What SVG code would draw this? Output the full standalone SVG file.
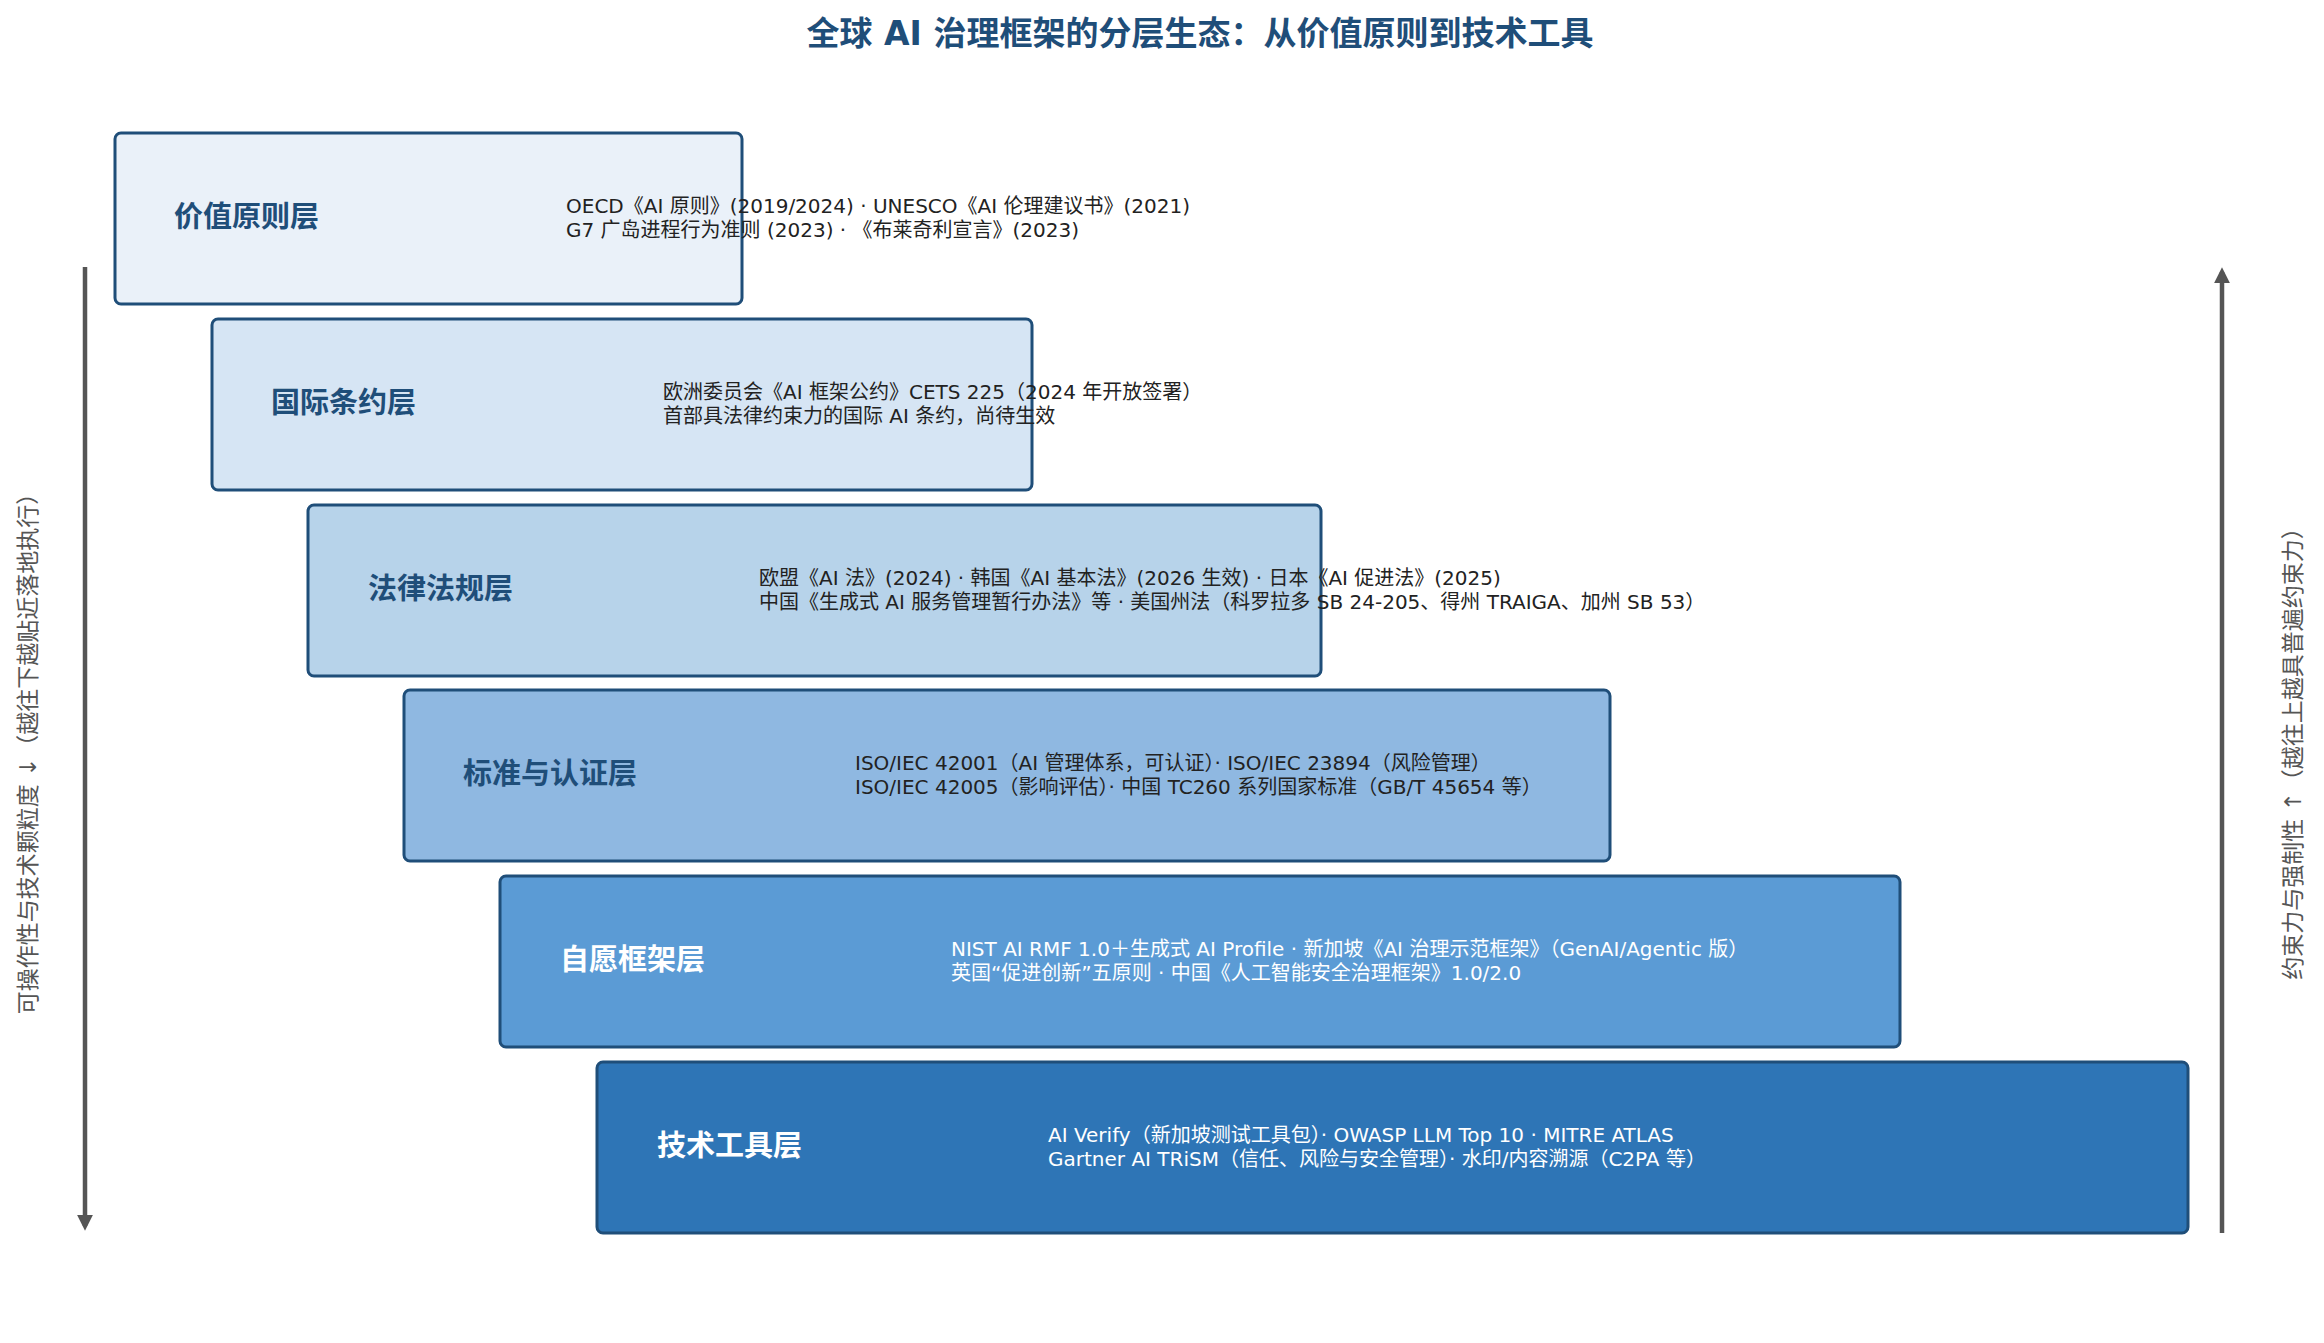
<svg xmlns="http://www.w3.org/2000/svg" width="2324" height="1343" viewBox="0 0 2324 1343">
<style>
.box{stroke:#1f4e79;stroke-width:3}
.lbl{font-family:"DejaVu Sans","Noto Sans CJK SC",sans-serif;font-weight:bold;font-size:29px;fill:#1f4e79;dominant-baseline:central}
.desc{font-family:"DejaVu Sans","Noto Sans CJK SC",sans-serif;font-size:20px;fill:#222}
.side{font-family:"DejaVu Sans","Noto Sans CJK SC",sans-serif;font-size:23px;fill:#555;text-anchor:middle;dominant-baseline:central}
.arr{stroke:#555;stroke-width:4.5;fill:none}
</style>
<defs>
<marker id="ah" markerWidth="8" markerHeight="8" refX="5" refY="4" orient="auto" markerUnits="userSpaceOnUse" viewBox="0 0 8 8"><path d="M0,0 L8,4 L0,8 Z" fill="#555"/></marker>
<marker id="ah2" viewBox="0 0 10 10" refX="7" refY="5" markerWidth="16" markerHeight="16" orient="auto" markerUnits="userSpaceOnUse"><path d="M0,0 L10,5 L0,10 Z" fill="#555"/></marker>
</defs>
<rect width="2324" height="1343" fill="#fff"/>
<text x="1200" y="33" font-family="DejaVu Sans,'Noto Sans CJK SC',sans-serif" font-weight="bold" font-size="33" fill="#1f4e79" text-anchor="middle" dominant-baseline="central">全球 AI 治理框架的分层生态：从价值原则到技术工具</text>
<g id="connectors">
<line class="arr" x1="85" y1="267" x2="85" y2="1226" marker-end="url(#ah2)"/>
<line class="arr" x1="2222" y1="1233" x2="2222" y2="272" marker-end="url(#ah2)"/>
</g>
<text class="side" transform="translate(28,748) rotate(-90)">可操作性与技术颗粒度 ↓（越往下越贴近落地执行）</text>
<text class="side" transform="translate(2293,748) rotate(-90)">约束力与强制性 ↑（越往上越具普遍约束力）</text>
<g id="layer1">
<rect class="box" x="115" y="133" width="627" height="171" rx="6" fill="#eaf1f9"/>
<text class="lbl" x="174" y="217">价值原则层</text>
<text class="desc" x="566" y="213">OECD《AI 原则》(2019/2024) · UNESCO《AI 伦理建议书》(2021)</text>
<text class="desc" x="566" y="237">G7 广岛进程行为准则 (2023) · 《布莱奇利宣言》(2023)</text>
</g>
<g id="layer2">
<rect class="box" x="212" y="319" width="820" height="171" rx="6" fill="#d6e5f4"/>
<text class="lbl" x="271" y="403">国际条约层</text>
<text class="desc" x="663" y="399">欧洲委员会《AI 框架公约》CETS 225（2024 年开放签署）</text>
<text class="desc" x="663" y="423">首部具法律约束力的国际 AI 条约，尚待生效</text>
</g>
<g id="layer3">
<rect class="box" x="308" y="505" width="1013" height="171" rx="6" fill="#b7d3ea"/>
<text class="lbl" x="368" y="589">法律法规层</text>
<text class="desc" x="759" y="585">欧盟《AI 法》(2024) · 韩国《AI 基本法》(2026 生效) · 日本《AI 促进法》(2025)</text>
<text class="desc" x="759" y="609">中国《生成式 AI 服务管理暂行办法》等 · 美国州法（科罗拉多 SB 24-205、得州 TRAIGA、加州 SB 53）</text>
</g>
<g id="layer4">
<rect class="box" x="404" y="690" width="1206" height="171" rx="6" fill="#8fb8e1"/>
<text class="lbl" x="463" y="774">标准与认证层</text>
<text class="desc" x="855" y="770">ISO/IEC 42001（AI 管理体系，可认证）· ISO/IEC 23894（风险管理）</text>
<text class="desc" x="855" y="794">ISO/IEC 42005（影响评估）· 中国 TC260 系列国家标准（GB/T 45654 等）</text>
</g>
<g id="layer5">
<rect class="box" x="500" y="876" width="1400" height="171" rx="6" fill="#5b9bd5"/>
<text class="lbl" x="560" y="960" fill="#ffffff" style="fill:#fff">自愿框架层</text>
<text class="desc" x="951" y="956" style="fill:#fff">NIST AI RMF 1.0＋生成式 AI Profile · 新加坡《AI 治理示范框架》（GenAI/Agentic 版）</text>
<text class="desc" x="951" y="980" style="fill:#fff">英国“促进创新”五原则 · 中国《人工智能安全治理框架》1.0/2.0</text>
</g>
<g id="layer6">
<rect class="box" x="597" y="1062" width="1591" height="171" rx="6" fill="#2e75b6"/>
<text class="lbl" x="657" y="1146" style="fill:#fff">技术工具层</text>
<text class="desc" x="1048" y="1142" style="fill:#fff">AI Verify（新加坡测试工具包）· OWASP LLM Top 10 · MITRE ATLAS</text>
<text class="desc" x="1048" y="1166" style="fill:#fff">Gartner AI TRiSM（信任、风险与安全管理）· 水印/内容溯源（C2PA 等）</text>
</g>
</svg>
